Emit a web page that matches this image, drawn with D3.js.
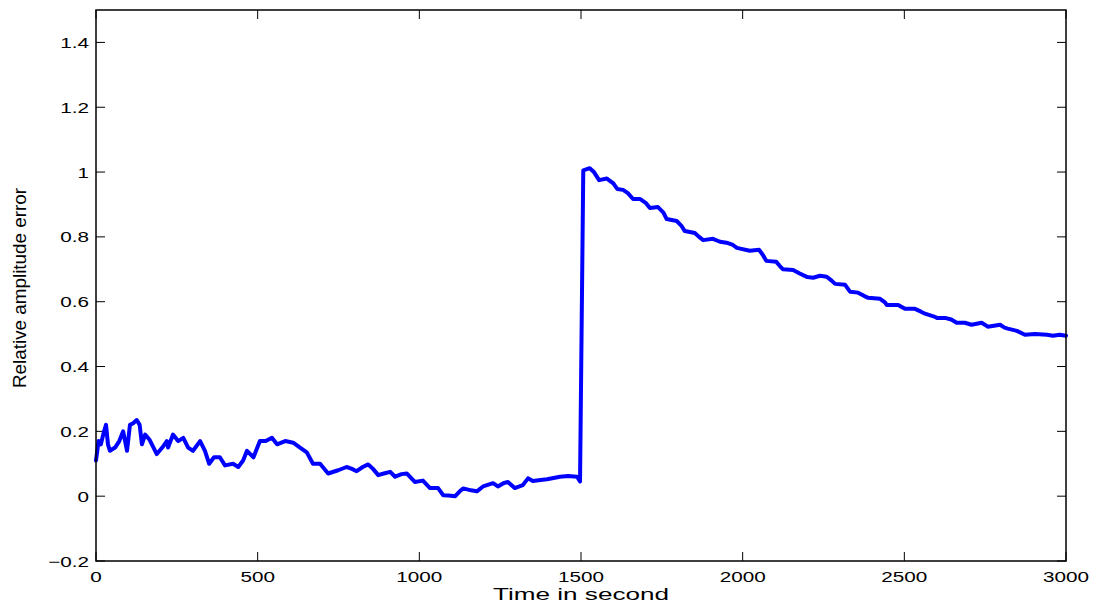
<!DOCTYPE html>
<html>
<head>
<meta charset="utf-8">
<script src="https://cdn.jsdelivr.net/npm/d3@7"></script>
<style>
  body { margin: 0; background: #fff; }
  text { font-family: "Liberation Sans", Arial, Helvetica, sans-serif; fill: #000; }
</style>
</head>
<body>
<div id="area"></div>
<script>
// time (s) and relative amplitude error
var times = [0, 8, 15, 25, 31, 37, 43, 59, 72, 84, 96, 105, 115, 126, 135, 142, 152, 165, 188, 205,
  219, 223, 238, 254, 270, 285, 300, 322, 337, 350, 365, 383, 399, 424, 440, 455, 467, 487, 507, 525,
  544, 560, 585, 610, 631, 652, 671, 693, 718, 749, 775, 790, 806, 825, 842, 856, 873, 890, 910, 925,
  945, 961, 986, 1011, 1033, 1058, 1074, 1090, 1111, 1125, 1136, 1160, 1178, 1197, 1228, 1243, 1260, 1274, 1295, 1320,
  1336, 1351, 1375, 1395, 1435, 1460, 1488, 1497, 1507, 1527, 1540, 1556, 1580, 1600, 1612, 1630, 1645, 1661, 1682, 1700,
  1713, 1738, 1755, 1765, 1796, 1810, 1821, 1852, 1865, 1878, 1908, 1930, 1950, 1970, 1982, 2022, 2051, 2062, 2073, 2104,
  2115, 2125, 2156, 2175, 2200, 2218, 2239, 2260, 2275, 2286, 2317, 2332, 2357, 2375, 2388, 2425, 2440, 2446, 2481, 2502,
  2533, 2550, 2564, 2590, 2601, 2626, 2645, 2662, 2687, 2708, 2739, 2758, 2796, 2810, 2820, 2848, 2873, 2904, 2941, 2960,
  2980, 3000];
var errors = [0.11, 0.17, 0.16, 0.20, 0.22, 0.16, 0.14, 0.15, 0.17, 0.20, 0.14, 0.22, 0.225, 0.235, 0.22, 0.16, 0.19, 0.175, 0.13, 0.15,
  0.17, 0.15, 0.19, 0.17, 0.18, 0.15, 0.14, 0.17, 0.14, 0.10, 0.12, 0.12, 0.095, 0.10, 0.09, 0.11, 0.14, 0.12, 0.17, 0.17,
  0.18, 0.16, 0.17, 0.165, 0.15, 0.135, 0.10, 0.10, 0.07, 0.08, 0.09, 0.085, 0.077, 0.09, 0.098, 0.085, 0.065, 0.07, 0.075, 0.06,
  0.068, 0.07, 0.044, 0.048, 0.025, 0.025, 0.003, 0.002, 0.0, 0.015, 0.024, 0.018, 0.015, 0.03, 0.04, 0.03, 0.04, 0.044, 0.025, 0.034,
  0.055, 0.047, 0.05, 0.052, 0.06, 0.062, 0.06, 0.045, 1.005, 1.012, 1.0, 0.975, 0.98, 0.965, 0.948, 0.945, 0.935, 0.917, 0.917, 0.905,
  0.889, 0.892, 0.875, 0.855, 0.849, 0.835, 0.818, 0.812, 0.80, 0.79, 0.794, 0.785, 0.782, 0.775, 0.766, 0.757, 0.76, 0.745, 0.726, 0.723,
  0.71, 0.70, 0.698, 0.688, 0.676, 0.674, 0.68, 0.677, 0.665, 0.655, 0.652, 0.631, 0.628, 0.618, 0.612, 0.609, 0.598, 0.59, 0.59, 0.578,
  0.578, 0.57, 0.563, 0.555, 0.55, 0.55, 0.545, 0.535, 0.535, 0.529, 0.535, 0.523, 0.529, 0.52, 0.517, 0.51, 0.498, 0.50, 0.498, 0.495,
  0.498, 0.495];
var xTicks = [0, 500, 1000, 1500, 2000, 2500, 3000];
var yTicks = [-0.2, 0, 0.2, 0.4, 0.6, 0.8, 1, 1.2, 1.4];

var width = 1099, height = 608;
var margin = { top: 10, right: 33, bottom: 47, left: 96 };
var stretch = 1.38; // the figure's text is widened horizontally
var tickLen = 9;

var svg = d3.select("#area").append("svg")
  .attr("width", width)
  .attr("height", height);

var x = d3.scaleLinear().domain([0, 3000]).range([margin.left, width - margin.right]);
var y = d3.scaleLinear().domain([-0.2, 1.5]).range([height - margin.bottom, margin.top]);

var x0 = x.range()[0], x1 = x.range()[1], y0 = y.range()[0], y1 = y.range()[1];

function fmt(v) {
  return (v < 0 ? "\u2212" : "") + d3.format("~g")(Math.abs(+v.toFixed(2)));
}

// ticks on all four sides, pointing in
var tg = svg.append("g").attr("stroke", "#000").attr("stroke-width", 1);
xTicks.forEach(function (t) {
  tg.append("line").attr("x1", x(t)).attr("x2", x(t)).attr("y1", y0).attr("y2", y0 - tickLen);
  tg.append("line").attr("x1", x(t)).attr("x2", x(t)).attr("y1", y1).attr("y2", y1 + tickLen);
});
yTicks.forEach(function (t) {
  tg.append("line").attr("x1", x0).attr("x2", x0 + tickLen).attr("y1", y(t)).attr("y2", y(t));
  tg.append("line").attr("x1", x1).attr("x2", x1 - tickLen).attr("y1", y(t)).attr("y2", y(t));
});

// data line
var line = d3.line()
  .x(function (d, i) { return x(times[i]); })
  .y(function (d) { return y(d); });

svg.append("path")
  .datum(errors)
  .attr("fill", "none")
  .attr("stroke", "#0000ff")
  .attr("stroke-width", 4)
  .attr("stroke-linejoin", "round")
  .attr("stroke-linecap", "round")
  .attr("d", line);

// box
svg.append("rect")
  .attr("x", x0).attr("y", y1)
  .attr("width", x1 - x0).attr("height", y0 - y1)
  .attr("fill", "none")
  .attr("stroke", "#000")
  .attr("stroke-width", 1.5);

// tick labels
svg.selectAll(".xl").data(xTicks).enter().append("text")
  .attr("class", "xl")
  .attr("transform", function (d) { return "translate(" + x(d) + "," + (y0 + 21) + ") scale(" + stretch + ",1)"; })
  .attr("text-anchor", "middle")
  .style("font-size", "15px")
  .text(function (d) { return d; });

svg.selectAll(".yl").data(yTicks).enter().append("text")
  .attr("class", "yl")
  .attr("transform", function (d) { return "translate(" + (x0 - 7) + "," + (y(d) + 5.5) + ") scale(" + stretch + ",1)"; })
  .attr("text-anchor", "end")
  .style("font-size", "15px")
  .text(fmt);

// axis titles
svg.append("text")
  .attr("x", (x0 + x1) / 2)
  .attr("y", 600)
  .attr("text-anchor", "middle")
  .attr("textLength", 176)
  .attr("lengthAdjust", "spacingAndGlyphs")
  .style("font-size", "17px")
  .text("Time in second");

svg.append("text")
  .attr("transform", "translate(26,288) rotate(-90)")
  .attr("text-anchor", "middle")
  .attr("textLength", 200)
  .attr("lengthAdjust", "spacingAndGlyphs")
  .style("font-size", "18px")
  .text("Relative amplitude error");
</script>
</body>
</html>
